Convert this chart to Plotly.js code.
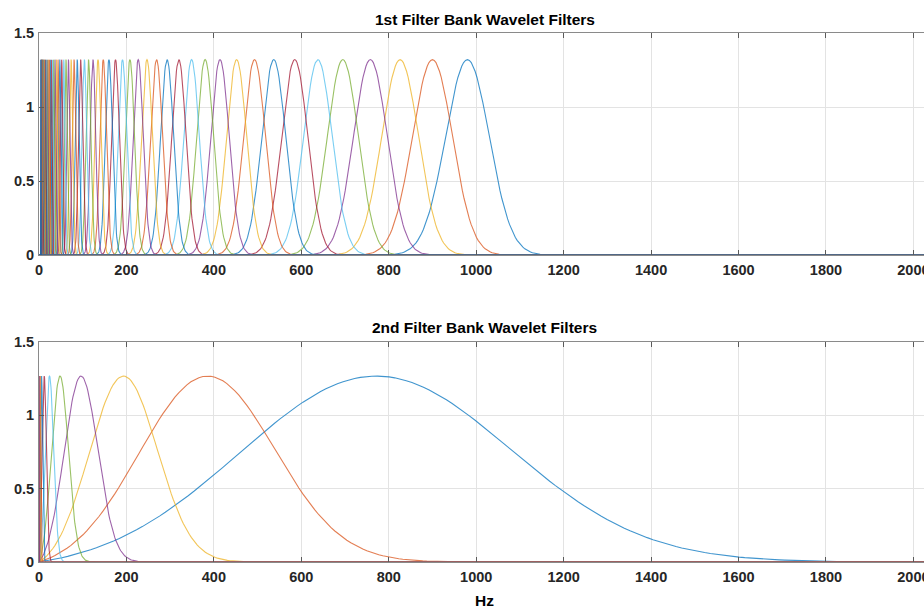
<!DOCTYPE html>
<html>
<head>
<meta charset="utf-8">
<script src="https://cdn.plot.ly/plotly-3.0.1.min.js"></script>
<style>
  html, body { margin: 0; padding: 0; overflow: hidden; background: #fff; }
  #chart { width: 930px; height: 611px; }
</style>
</head>
<body>
<div id="chart"></div>
<script>
// First filter bank: center frequencies (Hz), 8 wavelets per octave
const centers1 = [980, 900, 826, 758, 695, 638, 585, 537, 493, 452, 414, 380,
  349, 320, 293, 269, 247, 227, 208, 191, 175, 160, 147, 135,
  123.5, 113.2, 103.8, 95.2, 87.3, 80.1, 73.4, 67.3,
  61.7, 56.6, 51.9, 47.6, 43.6, 40.0, 36.7, 33.6,
  30.8, 28.3, 25.9, 23.8, 21.8, 20.0, 18.3, 16.8,
  15.4, 14.1, 12.9, 11.9, 10.9, 10.0, 9.2, 8.4,
  7.7, 7.0, 6.5, 5.9, 5.4, 5.0, 4.6, 4.2];
const peak1 = 1.32;          // filter peak gain
const sigmaRatio1 = 0.051;   // Gaussian width relative to center frequency

// Second filter bank: one wavelet per octave
const centers2 = [770, 385, 193, 96, 48, 24, 12, 6, 3, 1.5, 0.75];
const peak2 = 1.27;
const sigmaRatio2 = 0.40;

const xTicks = [0, 200, 400, 600, 800, 1000, 1200, 1400, 1600, 1800, 2000];
const yTicks = [0, 0.5, 1, 1.5];
const titles = ['1st Filter Bank Wavelet Filters', '2nd Filter Bank Wavelet Filters'];
const xLabel = 'Hz';

const palette = ['#0072BD', '#D95319', '#EDB120', '#7E2F8E', '#77AC30', '#4DBEEE', '#A2142F'];
const fMax = 2100;

// Morlet wavelet in the frequency domain (with zero-mean correction)
function morlet(f, c, s, a) {
  const corr = Math.exp(-(c * c) / (2 * s * s));
  return a * (Math.exp(-((f - c) * (f - c)) / (2 * s * s)) - corr * Math.exp(-(f * f) / (2 * s * s)));
}

function bankTraces(centers, peak, ratio, xa, ya) {
  return centers.map((c, i) => {
    const s = ratio * c;
    const lo = Math.max(0, c - 7 * s), hi = Math.min(fMax, c + 7 * s);
    const xs = [], ys = [];
    if (lo > 0) { xs.push(0); ys.push(0); }
    const n = 160;
    for (let k = 0; k <= n; k++) {
      const f = lo + (hi - lo) * k / n;
      xs.push(f); ys.push(morlet(f, c, s, peak));
    }
    if (hi < fMax) { xs.push(fMax); ys.push(0); }
    return {
      x: xs, y: ys, type: 'scatter', mode: 'lines',
      xaxis: xa, yaxis: ya, showlegend: false, hoverinfo: 'skip',
      opacity: 0.75,
      line: { color: palette[i % palette.length], width: 1.1 }
    };
  });
}

const traces = [
  ...bankTraces(centers1, peak1, sigmaRatio1, 'x', 'y'),
  ...bankTraces(centers2, peak2, sigmaRatio2, 'x2', 'y2')
];

const tickFont = { family: 'Liberation Sans, Arial, sans-serif', size: 14.5, color: '#262626', weight: 'bold' };

function xAxis(anchor) {
  return {
    anchor: anchor, domain: [0, 1], range: [0, 2038],
    tickmode: 'array', tickvals: xTicks, ticktext: xTicks.map(String),
    ticks: 'inside', ticklen: 5, tickcolor: '#5a5a5a', tickwidth: 1,
    showline: true, linecolor: '#8a8a8a', linewidth: 1, mirror: 'ticks',
    showgrid: true, gridcolor: '#e3e3e3', gridwidth: 1,
    zeroline: false, tickfont: tickFont, ticklabelstandoff: 2
  };
}
function yAxis(anchor, domain) {
  return {
    anchor: anchor, domain: domain, range: [0, 1.5],
    tickmode: 'array', tickvals: yTicks, ticktext: yTicks.map(String),
    ticks: 'inside', ticklen: 5, tickcolor: '#5a5a5a', tickwidth: 1,
    showline: true, linecolor: '#8a8a8a', linewidth: 1, mirror: 'ticks',
    showgrid: true, gridcolor: '#e3e3e3', gridwidth: 1,
    zeroline: false, tickfont: tickFont, ticklabelstandoff: 1
  };
}

const titleFont = { family: 'Liberation Sans, Arial, sans-serif', size: 15.5, color: '#000', weight: 'bold' };

const layout = {
  width: 930, height: 611,
  margin: { l: 39, r: 0, t: 0, b: 0 },
  paper_bgcolor: '#fff', plot_bgcolor: '#fff',
  xaxis: xAxis('y'),
  yaxis: yAxis('x', [0.5826, 0.946]),
  xaxis2: xAxis('y2'),
  yaxis2: yAxis('x2', [0.0802, 0.4403]),
  annotations: [
    { text: titles[0], xref: 'paper', yref: 'paper', x: 0.5, y: 0.9673, xanchor: 'center', yanchor: 'middle', showarrow: false, font: titleFont },
    { text: titles[1], xref: 'paper', yref: 'paper', x: 0.5, y: 0.4648, xanchor: 'center', yanchor: 'middle', showarrow: false, font: titleFont },
    { text: xLabel, xref: 'paper', yref: 'paper', x: 0.5, y: 0.018, xanchor: 'center', yanchor: 'middle', showarrow: false, font: titleFont }
  ]
};

Plotly.newPlot('chart', traces, layout, { displayModeBar: false, staticPlot: true });
</script>
</body>
</html>
